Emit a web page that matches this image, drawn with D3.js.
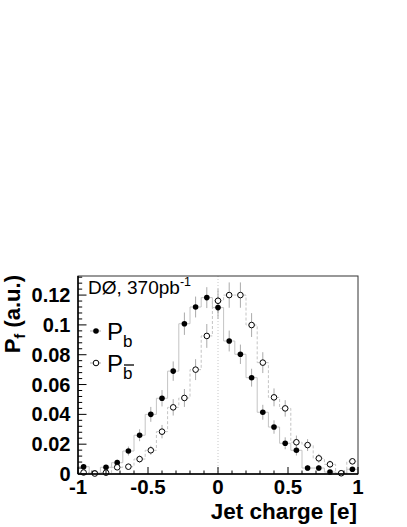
<!DOCTYPE html>
<html>
<head>
<meta charset="utf-8">
<script src="https://cdn.jsdelivr.net/npm/d3@7"></script>
<style>
html,body{margin:0;padding:0;background:#fff;}
svg{display:block;}
text{font-family:"Liberation Sans",Arial,Helvetica,sans-serif;}
</style>
</head>
<body>
<svg id="c" width="407" height="527"></svg>
<script>
// ---- data ----
const binCenters = [-0.96,-0.88,-0.80,-0.72,-0.64,-0.56,-0.48,-0.40,-0.32,-0.24,-0.16,-0.08,0.00,
                    0.08,0.16,0.24,0.32,0.40,0.48,0.56,0.64,0.72,0.80,0.88,0.96];
const binWidth = 0.08;
const pb = [0.0049,0.0007,0.0045,0.0076,0.0154,0.0260,0.0400,0.0508,0.0690,0.1008,0.1120,0.1183,0.1116,
            0.0892,0.0803,0.0646,0.0414,0.0315,0.0206,0.0159,0.0040,0.0040,0.0013,0.0005,0.0032];
const pbErr = [0.0015,0.0010,0.0015,0.0020,0.0030,0.0040,0.0050,0.0055,0.0065,0.0075,0.0070,0.0070,0.0075,
               0.0070,0.0065,0.0060,0.0050,0.0045,0.0040,0.0035,0.0020,0.0020,0.0012,0.0010,0.0015];
const pbbar = [0.0010,0.0003,0.0009,0.0045,0.0049,0.0100,0.0159,0.0284,0.0447,0.0510,0.0700,0.0926,0.1162,
               0.1200,0.1200,0.0999,0.0747,0.0514,0.0440,0.0213,0.0194,0.0105,0.0065,0.0005,0.0085];
const pbbarErr = [0.0010,0.0008,0.0010,0.0015,0.0020,0.0025,0.0030,0.0045,0.0055,0.0060,0.0070,0.0080,0.0080,
                  0.0085,0.0085,0.0080,0.0070,0.0060,0.0055,0.0045,0.0040,0.0030,0.0025,0.0015,0.0020];
const xTickLabels = ["-1","-0.5","0","0.5","1"];
const xTickValues = [-1,-0.5,0,0.5,1];
const yTickLabels = ["0","0.02","0.04","0.06","0.08","0.1","0.12"];
const yTickValues = [0,0.02,0.04,0.06,0.08,0.10,0.12];

// ---- layout ----
const L=78, R=358, T=276, B=474;
const svg = d3.select("#c");
const x = d3.scaleLinear().domain([-1,1]).range([L,R]);
const y = d3.scaleLinear().domain([0,0.1328]).range([B,T]);

// zero dotted line
svg.append("line").attr("x1",x(0)).attr("x2",x(0)).attr("y1",T).attr("y2",B)
  .attr("stroke","#c8c8c8").attr("stroke-width",1).attr("stroke-dasharray","1,2");

function stepPts(vals){
  const pts=[];
  vals.forEach((v,i)=>{pts.push([binCenters[i]-binWidth/2,v]);pts.push([binCenters[i]+binWidth/2,v]);});
  return pts;
}
const line = d3.line().x(d=>x(d[0])).y(d=>y(d[1]));
svg.append("path").attr("d",line(stepPts(pb))).attr("fill","none").attr("stroke","#c4c4c4").attr("stroke-width",1);
svg.append("path").attr("d",line(stepPts(pbbar))).attr("fill","none").attr("stroke","#c4c4c4").attr("stroke-width",1).attr("stroke-dasharray","3,2");

// error bars
function errs(vals,er){
  svg.append("g").selectAll("line").data(vals).enter().append("line")
    .attr("x1",(d,i)=>x(binCenters[i])).attr("x2",(d,i)=>x(binCenters[i]))
    .attr("y1",(d,i)=>y(Math.max(0,d-er[i]))).attr("y2",(d,i)=>y(d+er[i]))
    .attr("stroke","#aaaaaa").attr("stroke-width",1);
}
errs(pb,pbErr); errs(pbbar,pbbarErr);

// markers
svg.append("g").selectAll("circle").data(pb).enter().append("circle")
  .attr("cx",(d,i)=>x(binCenters[i])).attr("cy",d=>y(d)).attr("r",2.8).attr("fill","#000");
svg.append("g").selectAll("circle").data(pbbar).enter().append("circle")
  .attr("cx",(d,i)=>x(binCenters[i])).attr("cy",d=>y(d)).attr("r",2.8).attr("fill","#fff").attr("stroke","#000").attr("stroke-width",1);

// frame
svg.append("rect").attr("x",L).attr("y",T).attr("width",R-L).attr("height",B-T)
  .attr("fill","none").attr("stroke","#333").attr("stroke-width",1);

// axes ticks
const ax = svg.append("g");
ax.append("line").attr("x1",L).attr("x2",R).attr("y1",B).attr("y2",B).attr("stroke","#000").attr("stroke-width",1.5);
ax.append("line").attr("x1",L).attr("x2",L).attr("y1",T).attr("y2",B).attr("stroke","#000").attr("stroke-width",1.5);
const xMinor = d3.range(-10,11).map(k=>k/10);
ax.selectAll(".xt").data(xMinor).enter().append("line")
  .attr("x1",d=>x(d)).attr("x2",d=>x(d)).attr("y1",B)
  .attr("y2",(d,i)=>B-(i%5===0?7:3.5)).attr("stroke","#000");
const yMinor = d3.range(0,34).map(k=>k*0.004).filter(v=>v<=0.1328);
ax.selectAll(".yt").data(yMinor).enter().append("line")
  .attr("y1",d=>y(d)).attr("y2",d=>y(d)).attr("x1",L)
  .attr("x2",(d,i)=>L+(i%5===0?8.5:4.2)).attr("stroke","#000");

// tick labels
ax.selectAll(".xl").data(xTickValues).enter().append("text")
  .attr("x",d=>x(d)).attr("y",494).attr("text-anchor","middle")
  .attr("font-size",20.5).attr("font-weight","bold").text((d,i)=>xTickLabels[i]);
ax.selectAll(".yl").data(yTickValues).enter().append("text")
  .attr("x",70.5).attr("y",d=>y(d)+7).attr("text-anchor","end")
  .attr("font-size",20).attr("font-weight","bold").text((d,i)=>yTickLabels[i]);

// axis titles
svg.append("text").attr("x",357).attr("y",519).attr("text-anchor","end")
  .attr("font-size",22.5).attr("font-weight","bold").text("Jet charge [e]");
const yt = svg.append("text").attr("transform","translate(20,275) rotate(-90)")
  .attr("text-anchor","end").attr("font-size",22).attr("font-weight","bold");
yt.append("tspan").text("P");
yt.append("tspan").attr("font-size",15).attr("dy",5).text("f");
yt.append("tspan").attr("dy",-5).text(" (a.u.)");

// DØ label
const dl = svg.append("text").attr("x",88).attr("y",294).attr("font-size",19);
dl.append("tspan").text("DØ, 370pb");
dl.append("tspan").attr("font-size",12.5).attr("dy",-8).text("-1");

// legend
const leg = [{y:331, filled:true, sub:"b", bar:false},{y:363, filled:false, sub:"b", bar:true}];
leg.forEach(l=>{
  svg.append("line").attr("x1",90).attr("x2",101).attr("y1",l.y).attr("y2",l.y).attr("stroke","#aaa");
  svg.append("circle").attr("cx",96).attr("cy",l.y).attr("r",2.8)
    .attr("fill",l.filled?"#000":"#fff").attr("stroke","#000").attr("stroke-width",l.filled?0:1);
  const t = svg.append("text").attr("x",107).attr("y",l.y+9).attr("font-size",24);
  t.append("tspan").text("P");
  t.append("tspan").attr("font-size",17).attr("dy",7).text(l.sub);
  if(l.bar){
    svg.append("line").attr("x1",124).attr("x2",134).attr("y1",l.y+2).attr("y2",l.y+2).attr("stroke","#000").attr("stroke-width",1.3);
  }
});
</script>
</body>
</html>
